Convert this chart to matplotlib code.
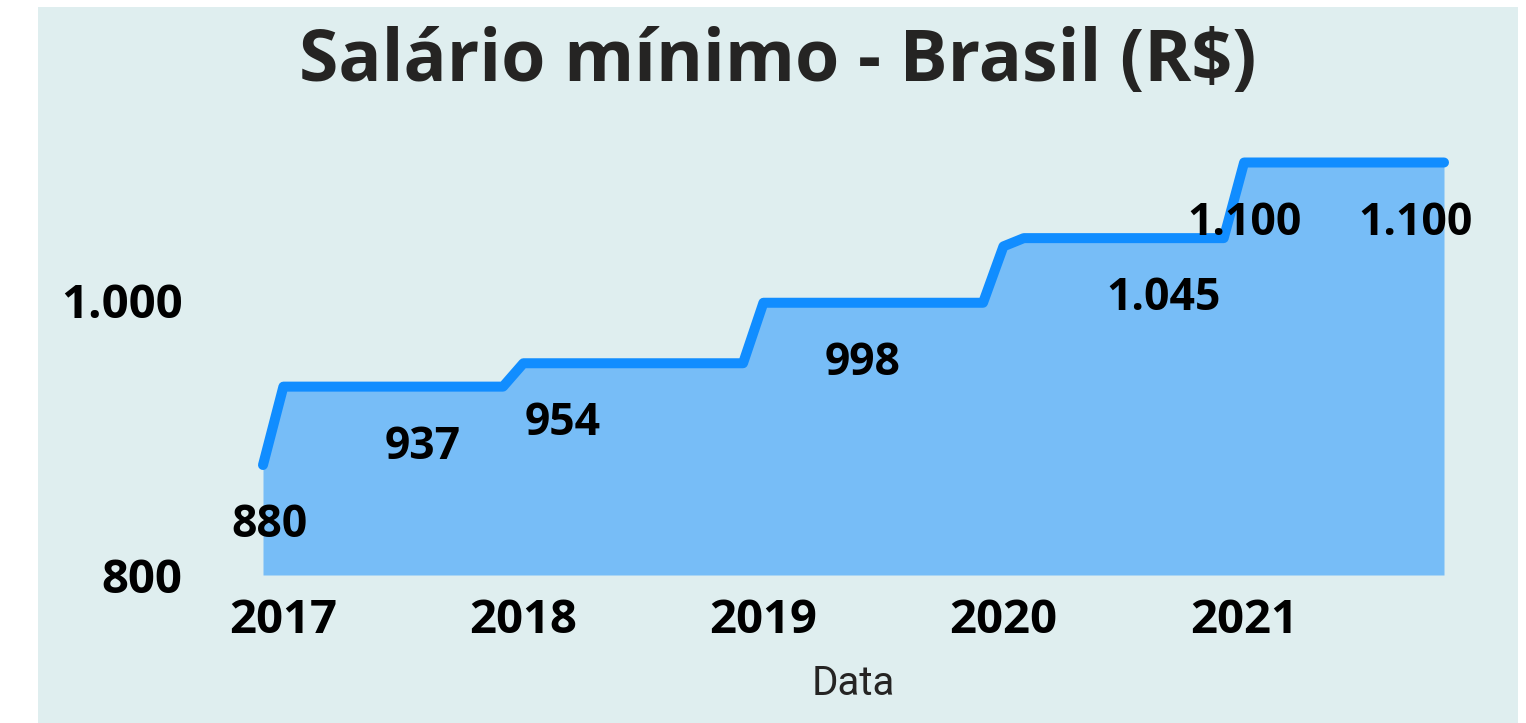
import pandas as pd
import matplotlib.pyplot as plt
from matplotlib.patches import Rectangle
from matplotlib.ticker import FuncFormatter

# Monthly minimum wage (R$), first day of each month
months = pd.date_range("2016-12-01", "2021-11-01", freq="MS")
wage = ([880] + [937] * 12 + [954] * 12 + [998] * 12 + [1039] + [1045] * 11 + [1100] * 11)

# Months that carry a value label, with a small horizontal nudge (points)
label_months = ["2016-12-01", "2017-08-01", "2018-03-01", "2019-06-01",
                "2020-09-01", "2021-01-01", "2021-10-01"]
label_nudge = [5, 0, 0, 0, 0, 0, -6]

year_ticks = pd.to_datetime(["2017-01-01", "2018-01-01", "2019-01-01",
                             "2020-01-01", "2021-01-01"])
year_labels = ["2017", "2018", "2019", "2020", "2021"]

LINE = "#118DFF"
FILL = "#77BDF7"
PANEL = "#DFEEEF"
TEXT = "#252423"

plt.rcParams["font.family"] = ["Open Sans", "DejaVu Sans"]

W, H = 1526, 723
fig = plt.figure(figsize=(W / 100, H / 100), dpi=100, facecolor="white")
fig.patches.append(Rectangle((38 / W, 0), (1518 - 38) / W, (H - 7) / H,
                             transform=fig.transFigure, facecolor=PANEL,
                             edgecolor="none", zorder=-10))

y_bottom, y_top = 800, 1120
px_per_unit = 1.375
ax_bottom_px = 575
ax_top_px = ax_bottom_px - (y_top - y_bottom) * px_per_unit
left_px, right_px = 263, 1444
ax = fig.add_axes([left_px / W, (H - ax_bottom_px) / H,
                   (right_px - left_px) / W, (ax_bottom_px - ax_top_px) / H])
ax.set_facecolor("none")

s = pd.Series(wage, index=months)
ax.fill_between(s.index, s.values, y_bottom, color=FILL, linewidth=0, zorder=1)
ax.plot(s.index, s.values, color=LINE, linewidth=7.2, solid_capstyle="round",
        solid_joinstyle="round", clip_on=False, zorder=2)


def br_number(v, pos=None):
    return f"{v:,.0f}".replace(",", ".")


for m, dx in zip(pd.to_datetime(label_months), label_nudge):
    v = s[m]
    ax.annotate(br_number(v), (m, v), xytext=(dx, -52), textcoords="offset points",
                ha="center", va="baseline", fontsize=32, fontweight="bold",
                color="black", zorder=3, annotation_clip=False)

ax.set_xlim(months[0], months[-1])
ax.set_ylim(y_bottom, y_top)
ax.set_yticks([800, 1000])
ax.yaxis.set_major_formatter(FuncFormatter(br_number))
ax.set_xticks(year_ticks)
ax.set_xticklabels(year_labels)
ax.tick_params(axis="both", length=0, labelsize=34, labelcolor="black")
ax.tick_params(axis="y", pad=58)
ax.tick_params(axis="x", pad=16)
for lab in ax.get_xticklabels() + ax.get_yticklabels():
    lab.set_fontweight("bold")
for sp in ax.spines.values():
    sp.set_visible(False)

ax.set_xlabel("Data", fontsize=29, color=TEXT, labelpad=14, family=["Roboto", "DejaVu Sans"])

fig.text(778 / W, 1 - 62 / H, "Salário mínimo - Brasil (R$)", ha="center", va="center",
         fontsize=51.5, fontweight="bold", color=TEXT)

fig.savefig("out.png", dpi=100, facecolor="white")
